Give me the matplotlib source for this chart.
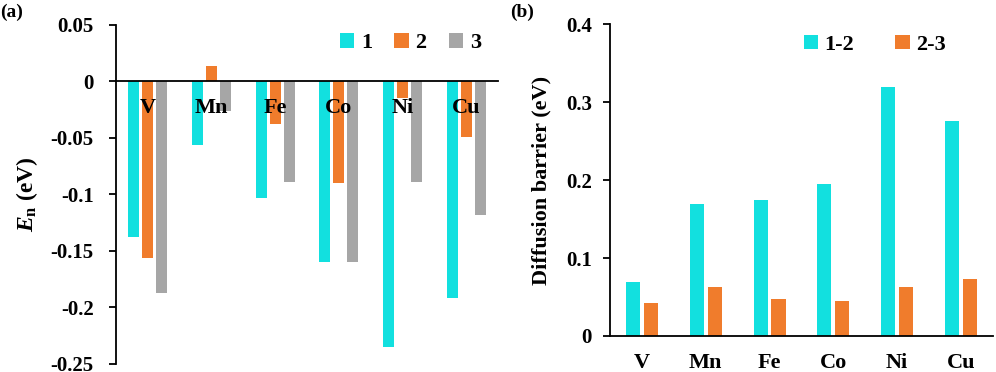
import numpy as np
from matplotlib import pyplot as plt
from matplotlib.ticker import FuncFormatter

metals = ["V", "Mn", "Fe", "Co", "Ni", "Cu"]

# (a) E_n for sites 1, 2, 3
site1 = [-0.138, -0.056, -0.103, -0.160, -0.235, -0.192]
site2 = [-0.156, 0.0135, -0.038, -0.090, -0.0145, -0.049]
site3 = [-0.187, -0.026, -0.089, -0.160, -0.089, -0.118]

# (b) diffusion barriers
path12 = [0.069, 0.1695, 0.175, 0.1955, 0.320, 0.276]
path23 = [0.042, 0.063, 0.0475, 0.045, 0.0625, 0.0736]

cyan = "#12E0DF"
orange = "#F07C2C"
gray = "#A6A6A6"

plt.rcParams["font.family"] = "Liberation Serif"
plt.rcParams["font.weight"] = "bold"
plt.rcParams["axes.unicode_minus"] = False
plt.rcParams["mathtext.fontset"] = "custom"
plt.rcParams["mathtext.it"] = "Liberation Serif:italic:bold"
plt.rcParams["mathtext.rm"] = "Liberation Serif:bold"

fig = plt.figure(figsize=(9.96, 3.72), dpi=100)
ax1 = fig.add_axes([0.1165, 0.022, 0.3835, 0.911])
ax2 = fig.add_axes([0.6124, 0.0968, 0.3846, 0.8379])

x = np.arange(len(metals))
fmt = FuncFormatter(lambda v, p: "%g" % round(v, 3))

# panel (a)
ax1.bar(x - 0.22, site1, 0.17, color=cyan, label="1")
ax1.bar(x, site2, 0.17, color=orange, label="2")
ax1.bar(x + 0.22, site3, 0.17, color=gray, label="3")
ax1.set_xlim(-0.5, 5.5)
ax1.set_ylim(-0.25, 0.05)
ax1.set_yticks([0.05, 0, -0.05, -0.1, -0.15, -0.2, -0.25])
ax1.yaxis.set_major_formatter(fmt)
ax1.spines["bottom"].set_position(("data", 0))
ax1.set_ylabel(r"$E_\mathrm{n}$ (eV)", fontsize=17, fontweight="bold")
ax1.yaxis.set_label_coords(-0.2, 0.5)
ax1.legend(loc="upper right", bbox_to_anchor=(0.99, 1.015), ncol=3, frameon=False,
           fontsize=16, handlelength=0.65, handleheight=0.65, handletextpad=0.3,
           columnspacing=1.0, borderaxespad=0.2)
fig.text(0.0, 0.99, "(a)", fontsize=14, fontweight="bold", va="top")

# panel (b)
ax2.bar(x - 0.14, path12, 0.22, color=cyan, label="1-2")
ax2.bar(x + 0.14, path23, 0.22, color=orange, label="2-3")
ax2.set_xlim(-0.5, 5.5)
ax2.set_ylim(0, 0.4)
ax2.set_yticks([0, 0.1, 0.2, 0.3, 0.4])
ax2.yaxis.set_major_formatter(fmt)
ax2.set_ylabel("Diffusion barrier (eV)", fontsize=16, fontweight="bold")
ax2.yaxis.set_label_coords(-0.152, 0.5)
ax2.legend(loc="upper right", bbox_to_anchor=(0.913, 1.01), ncol=2, frameon=False,
           fontsize=16, handlelength=0.65, handleheight=0.65, handletextpad=0.3,
           columnspacing=1.85, borderaxespad=0.2)
fig.text(0.512, 0.99, "(b)", fontsize=14, fontweight="bold", va="top")

for ax in (ax1, ax2):
    ax.spines["top"].set_visible(False)
    ax.spines["right"].set_visible(False)
    ax.spines["left"].set_linewidth(1.3)
    ax.spines["bottom"].set_linewidth(1.3)
    ax.set_xticks(x)
    ax.set_xticklabels(metals)
    ax.tick_params(axis="x", length=0, pad=12, labelsize=16)
    ax.tick_params(axis="y", direction="out", length=5, width=1.3, labelsize=15)

ax1.tick_params(axis="y", pad=11)
ax2.tick_params(axis="y", pad=8)

plt.savefig("out.png", dpi=100)
